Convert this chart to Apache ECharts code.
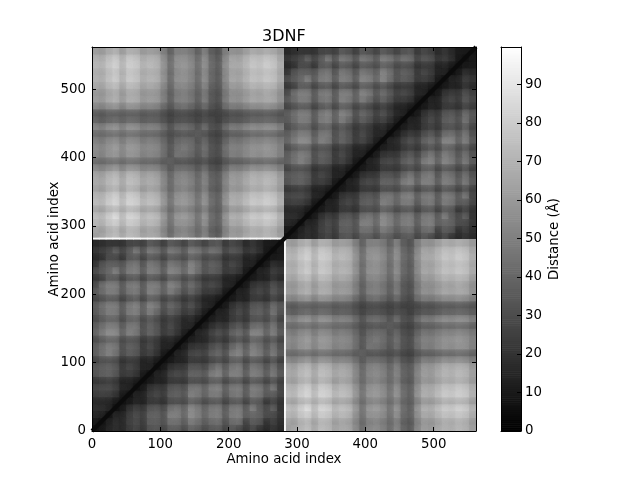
<!DOCTYPE html>
<html><head><meta charset="utf-8"><style>html,body{margin:0;background:#fff}#c{width:640px;height:480px}</style>
<script src="https://cdn.jsdelivr.net/npm/echarts@6/dist/echarts.min.js"></script></head><body><div id="c"></div>
<script>
const title = "3DNF";
const axisLabel = "Amino acid index";
const barLabel = "Distance (Å)";
const chainLength = 281;
const intraRows = [
[8,10,16,19,17,24,28,22,33,35,27,37,37,30,40,37,30,35,37,27,35,30,22,30,22,17,22,16],
[8,14,19,17,26,30,24,37,38,32,44,44,36,48,44,36,42,44,32,42,44,26,36,34,20,26,18],
[8,16,16,25,31,26,39,40,33,51,51,41,56,51,41,49,51,37,49,51,37,41,39,30,30,21],
[8,11,21,27,23,35,37,31,46,49,41,56,51,41,49,51,37,49,51,37,51,39,30,39,21],
[8,11,16,14,23,24,20,31,32,29,40,37,30,35,37,27,35,37,27,37,35,22,29,20],
[8,15,15,25,29,24,37,39,34,51,48,39,48,49,35,46,49,35,49,46,35,37,27],
[8,11,22,25,23,35,37,33,48,49,41,51,53,39,49,51,37,51,49,37,49,28],
[8,11,15,14,23,24,22,32,32,29,37,39,28,35,37,27,37,35,27,35,25],
[8,15,16,27,30,27,40,40,36,49,53,39,51,51,37,51,49,37,49,35],
[8,11,21,24,23,35,35,31,42,49,37,48,51,35,49,46,35,46,33],
[8,11,15,15,24,24,22,29,33,27,37,39,28,37,35,27,35,25],
[8,15,17,28,30,27,37,42,33,49,53,39,53,49,37,49,35],
[8,12,22,24,23,32,37,29,42,49,37,51,46,35,46,33],
[8,13,16,16,23,27,22,31,36,29,41,39,30,37,27],
[8,16,18,27,33,27,39,44,35,53,53,40,51,36],
[8,12,20,25,22,32,37,29,44,46,37,48,33],
[8,12,17,15,23,27,22,33,34,29,39,27],
[8,15,15,24,30,24,37,39,32,46,33],
[8,11,21,27,23,35,37,31,44,35],
[8,11,16,14,23,24,20,29,23],
[8,15,15,25,29,24,35,28],
[8,11,22,25,23,33,26],
[8,11,15,14,22,17],
[8,15,16,25,21],
[8,11,20,17],
[8,11,11],
[8,10],
[8]];
const interRows = [
[62,64,71,75,66,74,72,64,67,66,56,43,54,56,52,43,54,41,36,53,62,60,66,70,68,72,70,62],
[61,68,72,63,71,70,61,65,63,53,41,51,53,49,41,51,38,34,50,60,58,63,68,66,70,68,60],
[76,80,70,79,77,68,72,70,58,44,57,58,55,44,57,42,38,55,66,64,70,75,73,77,75,66],
[87,74,84,82,72,76,74,62,46,60,62,58,46,60,44,38,58,70,68,74,80,78,82,80,70],
[66,73,71,63,66,64,54,42,52,54,50,42,52,40,36,50,61,59,64,70,68,71,70,61],
[83,81,71,75,73,61,46,59,61,57,46,59,44,38,57,69,67,73,79,77,81,79,69],
[79,69,73,71,60,45,58,60,56,45,58,43,38,56,68,66,71,77,75,79,77,68],
[60,65,63,53,41,51,53,49,41,51,38,34,50,60,58,63,68,66,70,68,60],
[68,66,55,42,53,55,52,42,53,40,36,52,62,60,66,71,69,73,71,62],
[64,54,41,52,54,50,41,52,39,36,50,61,59,64,70,68,71,70,61],
[46,36,44,45,43,36,44,34,31,42,52,50,54,59,57,60,58,51],
[38,34,35,33,30,34,28,26,33,38,37,40,43,42,44,43,38],
[46,45,42,34,43,33,30,42,50,48,53,57,55,58,57,50],
[48,44,36,45,34,31,44,52,50,54,58,57,60,58,51],
[43,34,42,32,29,40,48,46,50,54,53,56,54,48],
[36,34,28,26,33,38,37,40,43,42,44,43,38],
[44,33,30,42,50,48,53,57,55,58,57,50],
[30,26,32,36,35,38,42,41,43,42,37],
[26,28,32,31,34,36,35,37,36,32],
[42,48,46,50,54,53,56,54,48],
[58,56,61,66,64,67,66,57],
[55,59,64,62,66,64,56],
[65,70,68,71,70,61],
[76,74,78,76,67],
[72,75,74,65],
[80,78,68],
[76,66],
[60]];
const chainEdge = [96,95,97,98,96,97,97,95,96,95,92,90,92,91,90,88,90,86,84,90,94,93,95,97,96,97,97,95];
const diagonalStops = [0,281,562];

const bins = intraRows.length, bin = chainLength / bins;
const tri = (t,i,j) => i <= j ? t[i][j-i] : t[j][i-j];
const cells = [];
const cell = (x0,x1,y0,y1,v,soft) => cells.push([x0,x1,y0,y1,v,soft]);
for (let i=0;i<bins;i++) for (let j=0;j<bins;j++) {
  const x=j*bin, y=i*bin, L=chainLength;
  cell(x,x+bin,y,y+bin,tri(intraRows,i,j),1);
  cell(x+L,x+L+bin,y+L,y+L+bin,tri(intraRows,i,j),1);
  cell(x+L,x+L+bin,y,y+bin,tri(interRows,i,j),1);
  cell(x,x+bin,y+L,y+L+bin,tri(interRows,j,i),1);
}
chainEdge.forEach((v,k)=>{
  const L=chainLength, w=2;
  cell(L,L+w,k*bin,(k+1)*bin,v,0);
  cell(k*bin,(k+1)*bin,L,L+w,v,0);
});
const barMax = 99.7, barCells = [];
for (let v=0;v<barMax;v+=0.5) barCells.push([0,1,v,Math.min(v+0.5,barMax),v,0]);

const rectItem = (params, api) => {
  const x0=api.value(0),x1=api.value(1),y0=api.value(2),y1=api.value(3);
  const a = api.coord([x0,y1]), b = api.coord([x1,y0]);
  const soft = api.value(5)===1, fill = api.visual('color');
  const item = {type:'rect', shape:{x:a[0],y:a[1],width:b[0]-a[0]+0.6,height:b[1]-a[1]+0.6},
    style: soft ? {fill,shadowBlur:6,shadowColor:fill} : {fill}};
  if (soft) {
    const L=chainLength, qx=x0<L-0.01?0:L, qy=y0<L-0.01?0:L;
    const p=api.coord([qx,qy+L]), q=api.coord([qx+L,qy]);
    item.clipPath={type:'rect',shape:{x:p[0],y:p[1],width:q[0]-p[0],height:q[1]-p[1]}};
  }
  return item;
};
const font = {color:'#000',fontFamily:'DejaVu Sans',fontSize:13.33};
const tickStyle = {inside:true,length:4,lineStyle:{color:'#000',width:1}};
const frame = {show:true,onZero:false,lineStyle:{color:'#000',width:1}};
const matrixAxis = (pos,main,name,grid) => ({
  type:'value',gridIndex:grid,position:pos,min:0,max:562,interval:100,z:5,
  axisLine:frame,axisTick:tickStyle,splitLine:{show:false},
  axisLabel:{show:main,margin:main?(pos==='bottom'?7:6):0,...font,showMaxLabel:false,
    ...(pos==='left'?{verticalAlignMinLabel:'middle',padding:[4,0,0,0]}:{alignMinLabel:'center'})},
  name:main?name:'',nameLocation:'middle',nameMoveOverlap:false,nameGap:pos==='bottom'?22:31,
  nameTextStyle:{...font}
});
const chart = echarts.init(document.getElementById('c'),null,{renderer:'canvas'});
chart.setOption({
  animation:false,backgroundColor:'#fff',
  title:{text:title,left:262,top:29,padding:0,textStyle:{fontFamily:'DejaVu Sans',fontSize:16,fontWeight:'normal',color:'#000'}},
  grid:[{left:92,top:47,width:384,height:384},{left:501,top:47,width:20,height:384}],
  xAxis:[matrixAxis('bottom',true,axisLabel,0),matrixAxis('top',false,'',0),
    {type:'value',gridIndex:1,min:0,max:1,position:'bottom',z:5,axisLine:frame,axisTick:{show:false},axisLabel:{show:false},splitLine:{show:false}},
    {type:'value',gridIndex:1,min:0,max:1,position:'top',z:5,axisLine:frame,axisTick:{show:false},axisLabel:{show:false},splitLine:{show:false}}],
  yAxis:[matrixAxis('left',true,axisLabel,0),matrixAxis('right',false,'',0),
    {type:'value',gridIndex:1,min:0,max:barMax,interval:10,position:'right',z:5,axisLine:frame,axisTick:{...tickStyle},
     axisLabel:{...font,margin:4,showMaxLabel:false,verticalAlignMinLabel:'middle',padding:[4,0,0,0]},splitLine:{show:false},
     name:barLabel,nameLocation:'middle',nameMoveOverlap:false,nameRotate:90,nameGap:27,nameTextStyle:{...font}},
    {type:'value',gridIndex:1,min:0,max:barMax,position:'left',z:5,axisLine:frame,axisTick:{show:false},axisLabel:{show:false},splitLine:{show:false}}],
  visualMap:{show:false,type:'continuous',min:0,max:barMax,dimension:4,seriesIndex:[0,1],inRange:{color:['#000','#fff']}},
  series:[
    {type:'custom',xAxisIndex:0,yAxisIndex:0,data:cells,renderItem:rectItem,clip:true,z:1,silent:true,encode:{x:[0,1],y:[2,3]}},
    {type:'custom',xAxisIndex:2,yAxisIndex:2,data:barCells,renderItem:rectItem,clip:true,z:1,silent:true,encode:{x:[0,1],y:[2,3]}},
    {type:'line',xAxisIndex:0,yAxisIndex:0,data:[[diagonalStops[0],diagonalStops[0]],[diagonalStops[1],diagonalStops[1]],[diagonalStops[2],diagonalStops[2]]],
     showSymbol:false,z:2,silent:true,lineStyle:{color:'#0b0b0b',width:4}}
  ]
});
</script></body></html>
